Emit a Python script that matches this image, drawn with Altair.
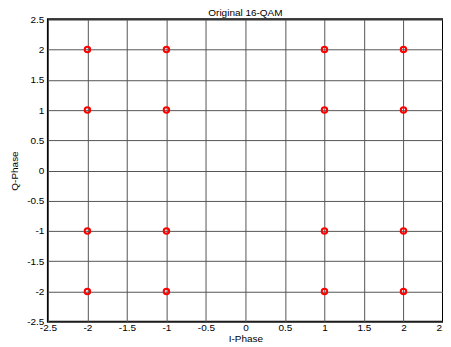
import altair as alt
import pandas as pd

i_levels = [-2, -1, 1, 2]
q_levels = [-2, -1, 1, 2]
ticks = [-2.5, -2, -1.5, -1, -0.5, 0, 0.5, 1, 1.5, 2, 2.5]
title_text = ["Original 16-QAM"]

rows = [{"I": i, "Q": q} for i in i_levels for q in q_levels]
df = pd.DataFrame(rows)
tdf = pd.DataFrame({"t": title_text})

FONT = "Liberation Sans"
W, H = 396, 303

points = alt.Chart(df).mark_point(
    shape="circle", filled=False, color="#ff0000", size=30, strokeWidth=2, opacity=1
).encode(
    x=alt.X("I:Q", scale=alt.Scale(domain=[-2.5, 2.5], nice=False, zero=False),
            axis=alt.Axis(values=ticks, title="I-Phase", labelExpr="datum.value + ''",
                          labelFlush=False, labelOverlap=False, labelPadding=1,
                          titlePadding=1)),
    y=alt.Y("Q:Q", scale=alt.Scale(domain=[-2.5, 2.5], nice=False, zero=False),
            axis=alt.Axis(values=ticks, title="Q-Phase", labelExpr="datum.value + ''",
                          labelFlush=False, labelOverlap=False, labelPadding=4,
                          titlePadding=7)),
)

title = alt.Chart(tdf).mark_text(
    font=FONT, fontSize=10, color="#000", align="center", baseline="alphabetic"
).encode(
    text="t:N", x=alt.value(W / 2), y=alt.value(-3.5)
)

chart = alt.layer(points, title).properties(
    width=W, height=H,
    autosize=alt.AutoSizeParams(type="none"),
    padding={"left": 40, "top": 11, "right": 0, "bottom": 24},
).configure_view(
    stroke="#000", strokeWidth=2
).configure_axis(
    grid=True, gridColor="#555", gridWidth=1, gridOpacity=1,
    domain=False, ticks=False,
    labelFont=FONT, labelFontSize=10, labelColor="#000",
    titleFont=FONT, titleFontSize=10, titleFontWeight="normal", titleColor="#000",
)

chart.save("out.html", embed_options={"renderer": "svg", "actions": False})
